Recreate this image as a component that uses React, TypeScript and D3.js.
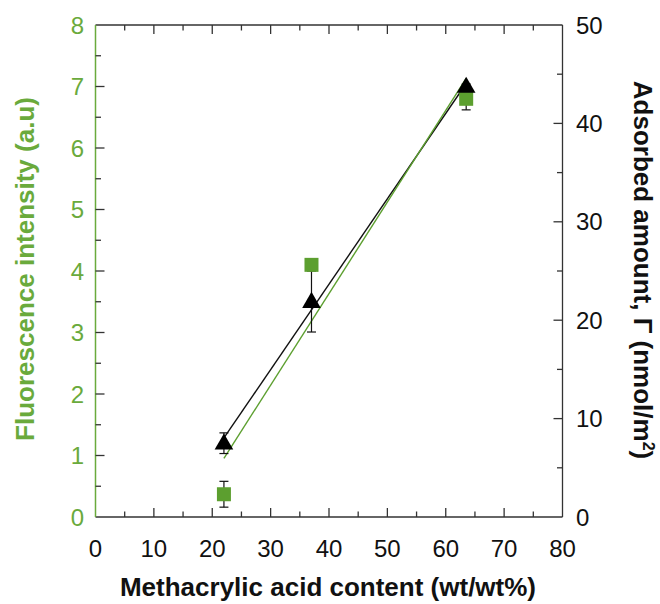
import React from "react";
import * as d3 from "d3";

const methacrylic = [22, 37, 63.5];
const fluorescence = [0.37, 4.1, 6.8];
const fluorescenceErr = [0.21, 0.08, 0.18];
const adsorbed = [7.5, 21.9, 43.75];
const adsorbedErr = [1.05, 3.1, 0.25];

const xTicks = [0, 10, 20, 30, 40, 50, 60, 70, 80];
const xMinor = [5, 15, 25, 35, 45, 55, 65, 75];
const yLeftTicks = [0, 1, 2, 3, 4, 5, 6, 7, 8];
const yLeftMinor = [0.5, 1.5, 2.5, 3.5, 4.5, 5.5, 6.5, 7.5];
const yRightTicks = [0, 10, 20, 30, 40, 50];
const yRightMinor = [5, 15, 25, 35, 45];

const GREEN_TEXT = "#6aaa3c";
const GREEN_FILL = "#5c9f2f";
const AXIS = "#333";
const FONT = "'Liberation Sans', Arial, sans-serif";

function fit(xs: number[], ys: number[]) {
  const mx = d3.mean(xs)!;
  const my = d3.mean(ys)!;
  let sxx = 0, sxy = 0;
  xs.forEach((x, i) => { sxx += (x - mx) ** 2; sxy += (x - mx) * (ys[i] - my); });
  const b = sxy / sxx;
  return { a: my - b * mx, b };
}

export default function App() {
  const W = 660, H = 604;
  const L = 95.5, R = 562.5, T = 25, B = 517;
  const x = d3.scaleLinear().domain([0, 80]).range([L, R]);
  const yL = d3.scaleLinear().domain([0, 8]).range([B, T]);
  const yR = d3.scaleLinear().domain([0, 50]).range([B, T]);
  const major = 9, minor = 5.5;
  const TF = 24;

  const fg = fit(methacrylic, fluorescence);
  const fb = fit(methacrylic, adsorbed);
  const x0 = d3.min(methacrylic)!, x1 = d3.max(methacrylic)!;
  const line = d3.line<[number, number]>();
  const greenLine = line([[x(x0), yL(fg.a + fg.b * x0)], [x(x1), yL(fg.a + fg.b * x1)]]);
  const blackLine = line([[x(x0), yR(fb.a + fb.b * x0)], [x(x1), yR(fb.a + fb.b * x1)]]);

  const sq = 14;
  const tri = d3.symbol().type(d3.symbolTriangle).size(150)();
  const cap = 4.5;

  const errBar = (cx: number, yTop: number, yBot: number, key: string) => (
    <g key={key} stroke="#111" strokeWidth={1.2}>
      <line x1={cx} x2={cx} y1={yTop} y2={yBot} />
      <line x1={cx - cap} x2={cx + cap} y1={yTop} y2={yTop} />
      <line x1={cx - cap} x2={cx + cap} y1={yBot} y2={yBot} />
    </g>
  );

  return (
    <svg width={W} height={H} style={{ position: "absolute", left: 0, top: 0, background: "#fff" }} fontFamily={FONT}>
      <rect width={W} height={H} fill="#fff" />
      {/* frame */}
      <line x1={L} x2={R} y1={T} y2={T} stroke={AXIS} strokeWidth={1.3} />
      <line x1={L} x2={R} y1={B} y2={B} stroke={AXIS} strokeWidth={1.3} />
      <line x1={R} x2={R} y1={T} y2={B} stroke={AXIS} strokeWidth={1.3} />
      <line x1={L} x2={L} y1={T} y2={B} stroke={GREEN_TEXT} strokeWidth={1.5} />
      {/* x ticks bottom & top */}
      {xTicks.filter(v => v > 0 && v < 80).map(v => (
        <g key={"xt" + v} stroke={AXIS} strokeWidth={1.3}>
          <line x1={x(v)} x2={x(v)} y1={B} y2={B - major} />
          <line x1={x(v)} x2={x(v)} y1={T} y2={T + major} />
        </g>
      ))}
      {xMinor.map(v => (
        <g key={"xm" + v} stroke={AXIS} strokeWidth={1.3}>
          <line x1={x(v)} x2={x(v)} y1={B} y2={B - minor} />
          <line x1={x(v)} x2={x(v)} y1={T} y2={T + minor} />
        </g>
      ))}
      {xTicks.map(v => (
        <text key={"xl" + v} x={x(v)} y={557} fontSize={TF} textAnchor="middle" fill="#111">{v}</text>
      ))}
      {/* left ticks */}
      {yLeftTicks.filter(v => v > 0 && v < 8).map(v => (
        <line key={"ylt" + v} x1={L} x2={L + major} y1={yL(v)} y2={yL(v)} stroke={AXIS} strokeWidth={1.3} />
      ))}
      {yLeftMinor.map(v => (
        <line key={"ylm" + v} x1={L} x2={L + minor} y1={yL(v)} y2={yL(v)} stroke={AXIS} strokeWidth={1.3} />
      ))}
      {yLeftTicks.map(v => (
        <text key={"yll" + v} x={84} y={yL(v) + 8.5} fontSize={TF} textAnchor="end" fill={GREEN_TEXT}>{v}</text>
      ))}
      {/* right ticks */}
      {yRightTicks.filter(v => v > 0 && v < 50).map(v => (
        <line key={"yrt" + v} x1={R} x2={R - major} y1={yR(v)} y2={yR(v)} stroke={AXIS} strokeWidth={1.3} />
      ))}
      {yRightMinor.map(v => (
        <line key={"yrm" + v} x1={R} x2={R - minor} y1={yR(v)} y2={yR(v)} stroke={AXIS} strokeWidth={1.3} />
      ))}
      {yRightTicks.map(v => (
        <text key={"yrl" + v} x={576} y={yR(v) + 8.5} fontSize={TF} textAnchor="start" fill="#111">{v}</text>
      ))}
      {/* fit lines */}
      <path d={blackLine!} stroke="#111" strokeWidth={1.4} fill="none" />
      <path d={greenLine!} stroke={GREEN_FILL} strokeWidth={1.4} fill="none" />
      {/* error bars */}
      {methacrylic.map((m, i) => errBar(x(m), yL(fluorescence[i] + fluorescenceErr[i]), yL(fluorescence[i] - fluorescenceErr[i]), "ef" + i))}
      {methacrylic.map((m, i) => errBar(x(m), yR(adsorbed[i] + adsorbedErr[i]), yR(adsorbed[i] - adsorbedErr[i]), "ea" + i))}
      {/* markers */}
      {methacrylic.map((m, i) => (
        <rect key={"sq" + i} x={x(m) - sq / 2} y={yL(fluorescence[i]) - sq / 2} width={sq} height={sq} fill={GREEN_FILL} />
      ))}
      {methacrylic.map((m, i) => (
        <path key={"tr" + i} d={tri!} transform={`translate(${x(m)},${yR(adsorbed[i]) + 1})`} fill="#000" />
      ))}
      {/* axis titles */}
      <text x={328} y={596} fontSize={26} fontWeight="bold" textAnchor="middle" fill="#111">Methacrylic acid content (wt/wt%)</text>
      <text transform="translate(34,269) rotate(-90)" fontSize={26} fontWeight="bold" textAnchor="middle" fill={GREEN_TEXT}>Fluorescence intensity (a.u)</text>
      <text transform="translate(634,270) rotate(90)" fontSize={26} fontWeight="bold" textAnchor="middle" fill="#111">
        Adsorbed amount, Γ (nmol/m<tspan dy={-9} fontSize={16}>2</tspan><tspan dy={9}>)</tspan>
      </text>
    </svg>
  );
}
